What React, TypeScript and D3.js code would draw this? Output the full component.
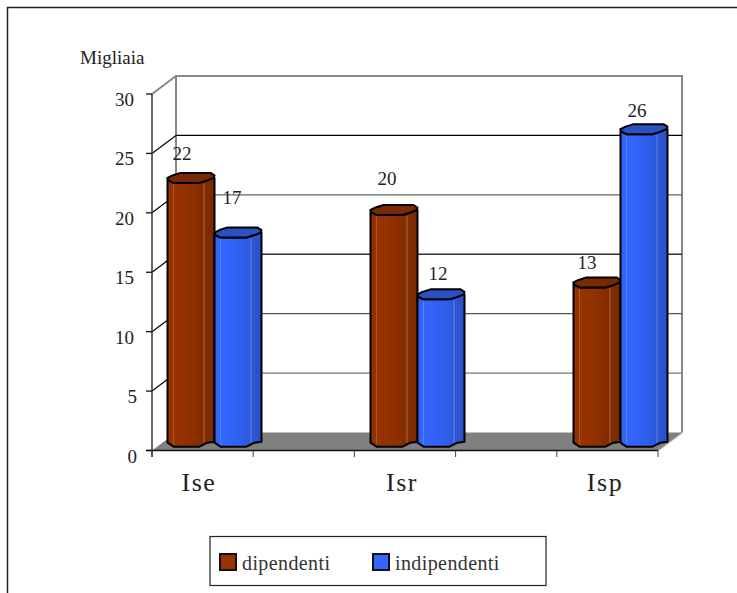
import React from "react";
import * as d3 from "d3";

const categories = ["Ise", "Isr", "Isp"];
const seriesNames = ["dipendenti", "indipendenti"];
const dipendenti = [22.2, 19.5, 13.4];
const indipendenti = [17.6, 12.4, 26.3];
const dipendentiLabels = ["22", "20", "13"];
const indipendentiLabels = ["17", "12", "26"];
const yTicks = [0, 5, 10, 15, 20, 25, 30];
const yTitle = "Migliaia";

const W = 737, H = 593;
const FONT = "'Liberation Serif', serif";
const y = d3.scaleLinear().domain([0, 30]).range([450.5, 94]);
const xCat = d3.scalePoint<string>().domain(categories).range([199, 605]);
const xTick = d3.scaleLinear().domain([0, 5]).range([152, 658]);
const DX = 24, DY = -18;
const BAR_W = 47;
const BASE = 446.7;
const gridColor: Record<number, string> = { 5: "#777", 10: "#555", 15: "#333", 20: "#666", 25: "#000" };
const labelNudgeD = [[-9, -13], [-7, -20], [-10, -8]];
const labelNudgeI = [[-6, -24], [-3, -9], [-7, -7]];
const line = d3.line();

function barPaths(x0: number, v: number) {
  const top = BASE - (y(0) - y(v)) - 10; // cap top edge
  const bottomEdge: [number, number][] = [
    [BAR_W, 5 + top], [BAR_W, BASE - 5], [BAR_W - 7, BASE - 4], [32, BASE], [6, BASE], [0, BASE - 4], [0, top + 5],
  ].map(([a, b]) => [x0 + a, b] as [number, number]);
  const cap: [number, number][] = [
    [0, 5], [5, 2.5], [13, 0], [43, 0], [47, 2.5], [46, 5], [40, 7.5], [32, 10], [6, 10], [1, 7.5],
  ].map(([a, b]) => [x0 + a, top + b] as [number, number]);
  const body: [number, number][] = [
    ...bottomEdge,
    [x0 + 1, top + 7.5], [x0 + 6, top + 10], [x0 + 32, top + 10], [x0 + 40, top + 7.5], [x0 + 46, top + 5],
  ];
  return { body: line(body) + "Z", cap: line(cap) + "Z", top };
}

function Bar({ x0, v, fill, capFill, label, nudge }: any) {
  const p = barPaths(x0, v);
  return (
    <g>
      <path d={p.body} fill={`url(#${fill})`} stroke="#000" strokeWidth={2} strokeLinejoin="round" />
      <line x1={x0 + 6} x2={x0 + 6} y1={p.top + 11} y2={BASE - 2} stroke="#fff" strokeOpacity={0.18} />
      <line x1={x0 + 36.5} x2={x0 + 36.5} y1={p.top + 11} y2={BASE - 4} stroke="#fff" strokeOpacity={0.28} />
      <path d={p.cap} fill={capFill} stroke="#000" strokeWidth={2} strokeLinejoin="round" />
      <text x={x0 + BAR_W / 2 + nudge[0]} y={p.top + nudge[1]} textAnchor="middle" fontSize={19} fill="#222">{label}</text>
    </g>
  );
}

export default function App() {
  return (
    <svg width={W} height={H} style={{ position: "absolute", left: 0, top: 0, background: "#fff" }} fontFamily={FONT}>
      <defs>
        <linearGradient id="brown" x1="0" x2="1" y1="0" y2="0">
          <stop offset="0" stopColor="#8f3000" />
          <stop offset="0.2" stopColor="#993300" />
          <stop offset="0.6" stopColor="#8a2e00" />
          <stop offset="1" stopColor="#7a2900" />
        </linearGradient>
        <linearGradient id="blue" x1="0" x2="1" y1="0" y2="0">
          <stop offset="0" stopColor="#3162f4" />
          <stop offset="0.2" stopColor="#3366ff" />
          <stop offset="0.6" stopColor="#2f5eea" />
          <stop offset="1" stopColor="#2a50c4" />
        </linearGradient>
      </defs>

      {/* outer frame */}
      <path d={`M7.5 ${H}V7.5H${W}`} fill="none" stroke="#222" strokeWidth={1.5} />

      {/* floor */}
      <path d={line([[152, y(0)], [152 + DX, y(0) + DY], [658 + DX, y(0) + DY], [658, y(0)]] as any) + "Z"} fill="#808080" />
      <path d={`M658 ${y(0)}L${658 + DX} ${y(0) + DY}`} stroke="#999" strokeWidth={1.5} />

      {/* walls */}
      <path d={`M${152 + DX} ${y(0) + DY}V${y(30) + DY}H${658 + DX}V${y(0) + DY}`} fill="none" stroke="#888" strokeWidth={2} />
      <line x1={152} y1={y(30)} x2={152 + DX} y2={y(30) + DY} stroke="#888" strokeWidth={2} />

      {/* grid */}
      {yTicks.filter(t => t > 0 && t < 30).map(t => (
        <g key={t}>
          <line x1={152 + DX} x2={658 + DX} y1={y(t) + DY} y2={y(t) + DY} stroke={gridColor[t]} strokeWidth={1.3} />
          <line x1={152} x2={152 + DX} y1={y(t)} y2={y(t) + DY} stroke="#000" strokeWidth={1.2} />
        </g>
      ))}

      {/* bars */}
      {categories.map((c, i) => (
        <g key={c}>
          <Bar x0={xCat(c)! - 31.5} v={dipendenti[i]} fill="brown" capFill="#7a2a00" label={dipendentiLabels[i]} nudge={labelNudgeD[i]} />
          <Bar x0={xCat(c)! + 15.5} v={indipendenti[i]} fill="blue" capFill="#2a50c4" label={indipendentiLabels[i]} nudge={labelNudgeI[i]} />
        </g>
      ))}

      {/* axes */}
      <line x1={152} x2={152} y1={y(30)} y2={457} stroke="#333" strokeWidth={1.5} />
      <line x1={146} x2={658} y1={y(0)} y2={y(0)} stroke="#111" strokeWidth={1.5} />
      {yTicks.map(t => (
        <g key={t}>
          <line x1={146} x2={152} y1={y(t)} y2={y(t)} stroke="#111" strokeWidth={1.3} />
          <text x={t >= 10 ? 134 : 137} y={y(t) + 12} textAnchor="end" fontSize={19} fill="#222">{t}</text>
        </g>
      ))}
      {d3.range(0, 6).map(i => (
        <line key={i} x1={xTick(i)} x2={xTick(i)} y1={y(0)} y2={457} stroke="#444" strokeWidth={1} />
      ))}
      {categories.map(c => (
        <text key={c} x={xCat(c)} y={491} textAnchor="middle" fontSize={26} letterSpacing={1.5} fill="#222">{c}</text>
      ))}
      <text x={80} y={64} fontSize={19} fill="#222">{yTitle}</text>

      {/* legend */}
      <rect x={210} y={536.5} width={336} height={49} fill="#fff" stroke="#222" strokeWidth={1.2} />
      <rect x={220} y={554} width={16} height={16} fill="#993300" stroke="#111" strokeWidth={2} />
      <text x={242} y={570} fontSize={20} letterSpacing={0.4} fill="#333">{seriesNames[0]}</text>
      <rect x={373} y={554} width={16} height={16} fill="#3366ff" stroke="#111" strokeWidth={2} />
      <text x={395} y={570} fontSize={20} letterSpacing={0.4} fill="#333">{seriesNames[1]}</text>
    </svg>
  );
}
